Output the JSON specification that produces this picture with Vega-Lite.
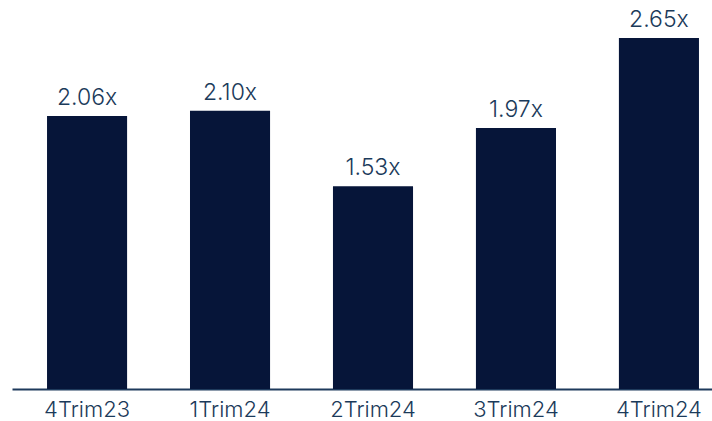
{
  "$schema": "https://vega.github.io/schema/vega-lite/v6.json",
  "autosize": "none",
  "padding": {"left": 12, "top": 0, "right": 0, "bottom": 32},
  "width": 722,
  "height": 389,
  "background": "white",
  "data": {"values": [
    {"period": "4Trim23", "value": 2.06, "label": "2.06x"},
    {"period": "1Trim24", "value": 2.10, "label": "2.10x"},
    {"period": "2Trim24", "value": 1.53, "label": "1.53x"},
    {"period": "3Trim24", "value": 1.97, "label": "1.97x"},
    {"period": "4Trim24", "value": 2.65, "label": "2.65x"}
  ]},
  "config": {"view": {"stroke": null}, "font": "Inter"},
  "encoding": {
    "x": {"field": "period", "type": "nominal", "sort": null,
      "scale": {"paddingInner": 0.44, "paddingOuter": 0.245},
      "axis": {"title": null, "labelAngle": 0, "ticks": false, "domainColor": "#1e3a5c", "domainWidth": 2,
        "labelFontSize": 22, "labelFontWeight": 300, "labelColor": "#1b3a5a", "labelPadding": 10, "labelFont": "Inter"}},
    "y": {"field": "value", "type": "quantitative", "scale": {"domain": [0, 2.936], "nice": false, "zero": true}, "axis": null}
  },
  "layer": [
    {"mark": {"type": "bar", "color": "#061539"}},
    {"mark": {"type": "text", "baseline": "alphabetic", "dy": -11, "fontSize": 23, "fontWeight": 300, "color": "#1b3a5a", "font": "Inter"},
      "encoding": {"text": {"field": "label", "type": "nominal"}}}
  ]
}
